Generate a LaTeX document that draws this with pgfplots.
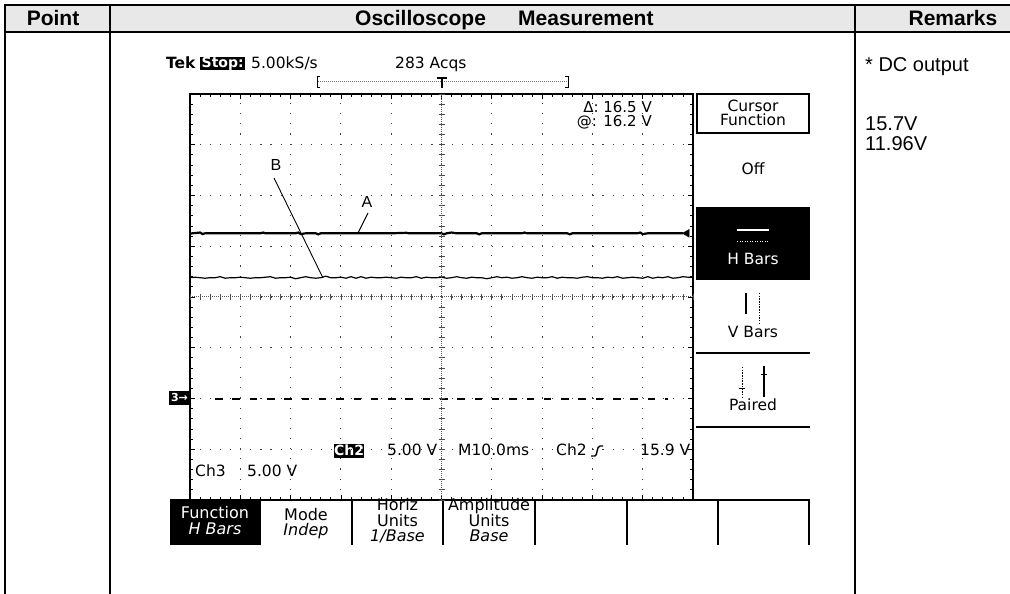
\documentclass[border=0pt]{standalone}
\usepackage{pgfplots}
\pgfplotsset{compat=1.18}
\usepackage{fontspec}
\setmainfont{Liberation Sans}
\newfontfamily\tekfont{DejaVu Sans}
\tikzset{
  sc/.style={font=\tekfont\fontsize{15.5}{16}\selectfont, inner sep=0pt},
  scb/.style={font=\tekfont\fontsize{16}{16}\selectfont, inner sep=0pt},
  sci/.style={font=\tekfont\itshape\fontsize{16}{16}\selectfont, inner sep=0pt},
}
\begin{document}
\begin{tikzpicture}
\useasboundingbox (0pt,0pt) rectangle (1010pt,594pt);
\begin{scope}[x=1pt,y=-1pt,shift={(0pt,594pt)}]
% table
\fill[gray!18] (5,5) rectangle (1010,32);
\draw[line width=2.5pt] (5,594) -- (5,5) -- (1010,5);
\draw[line width=2.5pt] (5,32) -- (1010,32);
\draw[line width=2.5pt] (110,5) -- (110,594);
\draw[line width=2.5pt] (855,5) -- (855,594);
\node[anchor=base, inner sep=0pt, font=\bfseries\fontsize{21}{22}\selectfont] at (53,26) {Point};
\node[anchor=base west, inner sep=0pt, font=\bfseries\fontsize{21}{22}\selectfont] at (355,26) {Oscilloscope};
\node[anchor=base west, inner sep=0pt, font=\bfseries\fontsize{21}{22}\selectfont] at (518,26) {Measurement};
\node[anchor=base, inner sep=0pt, font=\bfseries\fontsize{21}{22}\selectfont] at (953,26) {Remarks};
% remarks
\node[anchor=base west, inner sep=0pt, font=\fontsize{20}{22}\selectfont] at (865,72) {* DC output};
\node[anchor=base west, inner sep=0pt, font=\fontsize{20}{22}\selectfont] at (865,131) {15.7V};
\node[anchor=base west, inner sep=0pt, font=\fontsize{20}{22}\selectfont] at (865,151) {11.96V};
% scope top line
\node[anchor=base west, inner sep=0pt, font=\tekfont\bfseries\fontsize{15.5}{16}\selectfont] at (166,68.5) {Tek};
\fill (200,57) rectangle (245,70);
\node[anchor=base west, white, inner sep=0pt, font=\tekfont\bfseries\fontsize{14}{14}\selectfont] at (201.5,68) {Stop:};
\node[sc, anchor=base west] at (251,68.5) {5.00kS/s};
\node[sc, anchor=base west] at (395,68.5) {283 Acqs};
\draw[black!55, line width=1pt, dash pattern=on 1pt off 1pt] (318,82) -- (567,82);
\draw[line width=1pt] (320,77) -- (317,77) -- (317,88) -- (320,88);
\draw[line width=1pt] (565,77) -- (568,77) -- (568,88) -- (565,88);
\draw[line width=1.2pt] (437,78) -- (447,78) (442,78) -- (442,88);
% cursor readouts
\node[sc, anchor=base east, font=\tekfont\fontsize{15}{15}\selectfont] at (652,113) {Δ: 16.5 V};
\node[sc, anchor=base east, font=\tekfont\fontsize{15}{15}\selectfont] at (652,127) {@: 16.2 V};
% right menu
\draw[line width=1.2pt] (697,94) rectangle (809,133);
\node[sc, anchor=base] at (753,112) {Cursor};
\node[sc, anchor=base] at (753,125.5) {Function};
\node[sc, anchor=base] at (753,175) {Off};
\fill (696,207) rectangle (810,280);
\draw[white, line width=1.3pt] (737,230) -- (769,230);
\draw[white, line width=1pt, dash pattern=on 1pt off 1.5pt] (737,242) -- (769,242);
\node[sc, anchor=base, white] at (753,265) {H Bars};
\draw[line width=1.2pt] (746,293) -- (746,314);
\draw[line width=1pt, dash pattern=on 1.5pt off 1.2pt] (759,293) -- (759,324);
\node[sc, anchor=base] at (753,338) {V Bars};
\draw[line width=1.3pt] (696,353) -- (810,353);
\draw[line width=1pt, dash pattern=on 1.5pt off 1.2pt] (742,367) -- (742,397);
\draw[line width=1pt] (739,389) -- (745,389);
\draw[line width=1.2pt] (764,366) -- (764,397);
\draw[line width=1pt] (761,375) -- (767,375);
\node[sc, anchor=base] at (753,411) {Paired};
\draw[line width=1.3pt] (696,427) -- (810,427);
% ch3 marker
\fill (169,391) rectangle (190,405);
\node[white, inner sep=0pt, font=\tekfont\bfseries\fontsize{11}{11}\selectfont] at (179.5,398) {3→};
% labels A, B
\node[font=\fontsize{16}{16}\selectfont, inner sep=0pt] at (276,165) {B};
\draw[line width=0.9pt] (274,178) -- (323,278);
\node[font=\fontsize{16}{16}\selectfont, inner sep=0pt] at (367,202) {A};
\draw[line width=0.9pt] (368,213) -- (358,233);
% bottom status
\fill (334,444) rectangle (364,458);
\node[anchor=base, white, inner sep=0pt, font=\tekfont\bfseries\fontsize{14}{14}\selectfont] at (349,456) {Ch2};
\node[sc, anchor=base west] at (387,456) {5.00 V};
\node[sc, anchor=base west] at (458,456) {M10.0ms};
\node[sc, anchor=base west] at (556,456) {Ch2};
\draw[line width=1.4pt] (591,456) -- (595,456) .. controls (597.5,456) and (596.5,446) .. (600,446) -- (603,446);
\node[sc, anchor=base west] at (640,456) {15.9 V};
\node[sc, anchor=base west] at (195,477) {Ch3};
\node[sc, anchor=base west] at (247,477) {5.00 V};
% bottom menu
\fill (170,501) rectangle (260,545);
\draw[line width=1.5pt] (170,500) -- (810,500);
\draw[line width=1.5pt] (260,500) -- (260,545) (352,500) -- (352,545) (443,500) -- (443,545)
  (535,500) -- (535,545) (627,500) -- (627,545) (718,500) -- (718,545) (809,500) -- (809,545);
\node[scb, anchor=base, white] at (215,519) {Function};
\node[sci, anchor=base, white] at (215,535) {H Bars};
\node[scb, anchor=base] at (306,521) {Mode};
\node[sci, anchor=base] at (306,536) {Indep};
\node[scb, anchor=base] at (397.5,511) {Horiz};
\node[scb, anchor=base] at (397.5,526.5) {Units};
\node[sci, anchor=base] at (397.5,542) {1/Base};
\node[scb, anchor=base] at (489,511) {Amplitude};
\node[scb, anchor=base] at (489,526.5) {Units};
\node[sci, anchor=base] at (489,542) {Base};
\end{scope}
% ---------- graticule axis (divisions) ----------
\begin{axis}[at={(190pt,94pt)},anchor=south west,width=503pt,height=406pt,scale only axis,
  xmin=0,xmax=10,ymin=-4,ymax=4,
  xtick={0,...,10}, ytick={-4,...,4}, minor x tick num=4, minor y tick num=4,
  xticklabels={}, yticklabels={},
  tick align=inside, major tick length=5pt, minor tick length=3pt,
  tick style={black, line width=0.8pt},
  xmajorgrids, ymajorgrids,
  x grid style={black!75, line width=1.1pt, dash pattern=on 1.1pt off 9.05pt},
  y grid style={black!75, line width=1.1pt, dash pattern=on 1.1pt off 8.96pt},
  axis line style={line width=1.2pt}, clip=false]
% Trace A (Ch2)
\addplot[black, line width=2.2pt] coordinates {
(0,1.25)(0.2,1.27)(0.25,1.24)(0.3,1.255)(0.6,1.255)(1.4,1.255)(1.45,1.27)(1.5,1.255)
(2.1,1.255)(2.15,1.27)(2.2,1.24)(2.3,1.255)(2.5,1.255)(2.55,1.235)(2.6,1.255)(4.0,1.255)
(4.3,1.265)(4.35,1.255)(5.0,1.255)(5.05,1.235)(5.1,1.255)(5.2,1.27)(5.3,1.255)(5.7,1.255)
(5.75,1.235)(5.8,1.255)(6.6,1.255)(6.65,1.27)(6.7,1.255)(7.5,1.255)(7.55,1.235)(7.6,1.255)
(8.9,1.255)(8.95,1.27)(9.0,1.24)(9.1,1.255)(9.8,1.255)};
% Trace B
\addplot[black, line width=1.2pt] coordinates {
(0.0,0.38)(0.1,0.39)(0.2,0.38)(0.3,0.37)(0.4,0.38)(0.5,0.38)(0.6,0.40)(0.7,0.37)(0.8,0.38)(0.9,0.38)
(1.0,0.39)(1.1,0.38)(1.2,0.37)(1.3,0.38)(1.4,0.38)(1.5,0.39)(1.6,0.40)(1.7,0.37)(1.8,0.38)(1.9,0.38)
(2.0,0.39)(2.1,0.36)(2.2,0.38)(2.3,0.40)(2.4,0.38)(2.5,0.37)(2.6,0.38)(2.7,0.41)(2.8,0.38)(2.9,0.38)
(3.0,0.39)(3.1,0.37)(3.2,0.40)(3.3,0.37)(3.4,0.40)(3.5,0.37)(3.6,0.39)(3.7,0.38)(3.8,0.38)(3.9,0.39)
(4.0,0.38)(4.1,0.37)(4.2,0.39)(4.3,0.38)(4.4,0.38)(4.5,0.40)(4.6,0.37)(4.7,0.39)(4.8,0.38)(4.9,0.38)
(5.0,0.39)(5.1,0.37)(5.2,0.38)(5.3,0.40)(5.4,0.38)(5.5,0.37)(5.6,0.39)(5.7,0.38)(5.8,0.38)(5.9,0.36)
(6.0,0.38)(6.1,0.40)(6.2,0.38)(6.3,0.39)(6.4,0.37)(6.5,0.38)(6.6,0.40)(6.7,0.38)(6.8,0.37)(6.9,0.39)
(7.0,0.38)(7.1,0.38)(7.2,0.40)(7.3,0.37)(7.4,0.39)(7.5,0.38)(7.6,0.38)(7.7,0.37)(7.8,0.39)(7.9,0.40)
(8.0,0.38)(8.1,0.38)(8.2,0.37)(8.3,0.39)(8.4,0.38)(8.5,0.40)(8.6,0.37)(8.7,0.38)(8.8,0.39)(8.9,0.38)
(9.0,0.37)(9.1,0.40)(9.2,0.37)(9.3,0.39)(9.4,0.38)(9.5,0.40)(9.6,0.37)(9.7,0.38)(9.8,0.40)(9.9,0.39)
(10.0,0.39)};
% Trace Ch3 (dashed)
\addplot[black, line width=1.5pt, dash pattern=on 7.5pt off 9.8pt] coordinates {(0.5,-2.01)(9.5,-2.01)};
% Ch2 level marker
\addplot[only marks, mark=triangle*, mark size=4.5pt, mark options={rotate=90, fill=black, draw=black}] coordinates {(9.88,1.255)};
\end{axis}
% ---------- centre cross with fine ticks ----------
\begin{axis}[at={(190pt,94pt)},anchor=south west,width=503pt,height=406pt,scale only axis,
  xmin=-5,xmax=5,ymin=-4,ymax=4, axis lines=middle,
  axis line style={-, black!65, line width=1pt, dash pattern=on 1pt off 1pt},
  xtick={-5,-4.8,...,5}, ytick={-4,-3.8,...,4}, xticklabels={}, yticklabels={},
  tick align=center, major tick length=6pt, tick style={black!70, line width=0.8pt}]
\end{axis}
\end{tikzpicture}
\end{document}
